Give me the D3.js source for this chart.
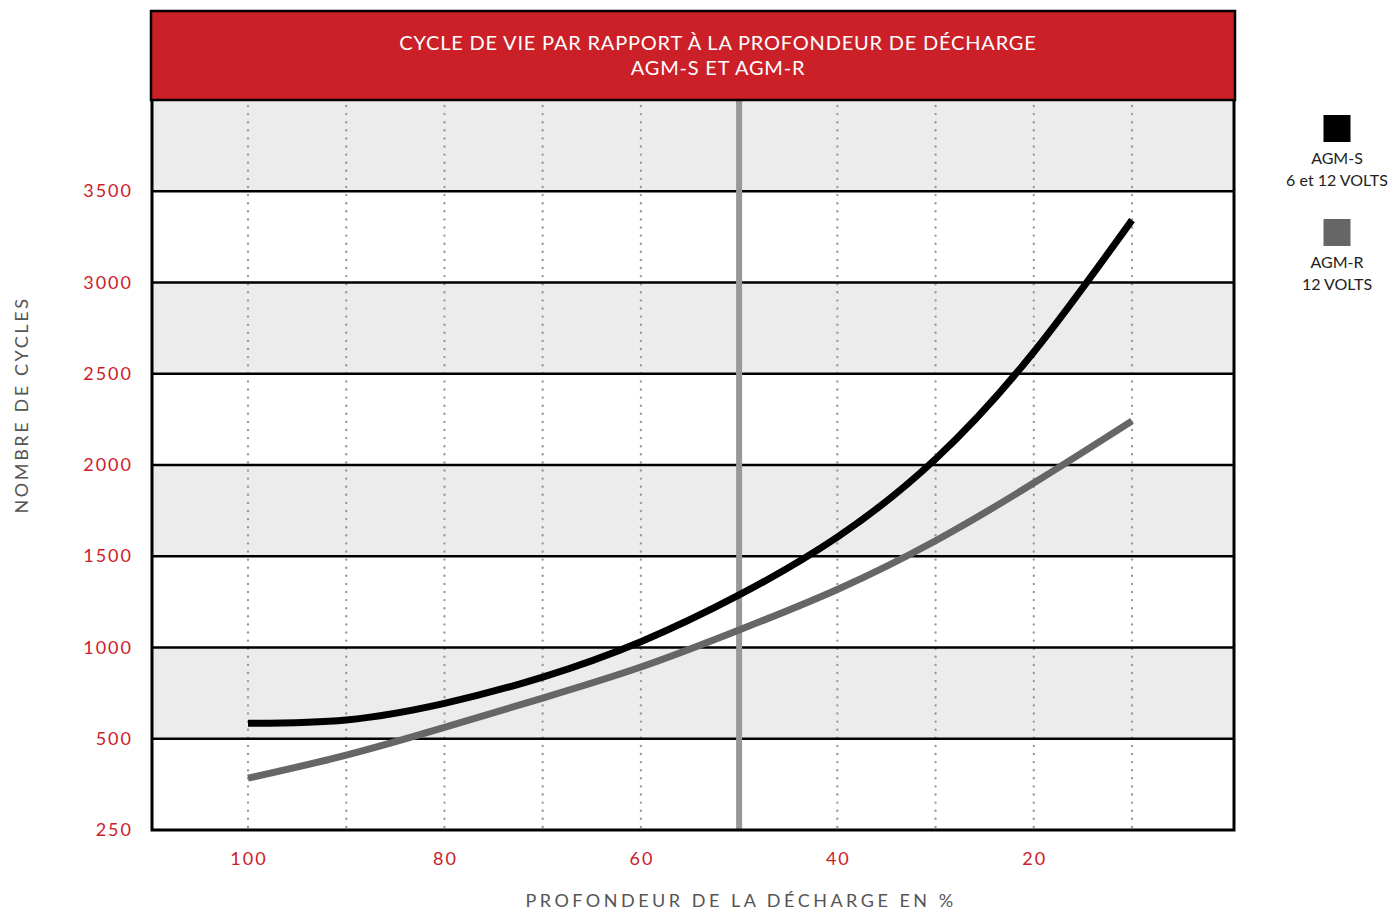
<!DOCTYPE html>
<html>
<head>
<meta charset="utf-8">
<script src="https://cdn.jsdelivr.net/npm/d3@7"></script>
<style>
  body { margin: 0; background: #fff; }
  svg text { font-family: Lato, "Open Sans", sans-serif; }
</style>
</head>
<body>
<svg id="chart" width="1397" height="912"></svg>
<script>
// depth of discharge (%) and cycles
var depth = [100, 90, 80, 70, 60, 50, 40, 30, 20, 10]
var agmS = [585, 603, 694, 838, 1032, 1288, 1605, 2033, 2619, 3342]
var agmR = [392, 455, 562, 723, 893, 1096, 1318, 1585, 1901, 2241]

var yTicks = [250, 500, 1000, 1500, 2000, 2500, 3000, 3500, 4000]
var yLabels = [250, 500, 1000, 1500, 2000, 2500, 3000, 3500]
var xLabels = [100, 80, 60, 40, 20]
var gridX = [100, 90, 80, 70, 60, 40, 30, 20, 10]
var markerX = 50

var titleLines = ["CYCLE DE VIE PAR RAPPORT À LA PROFONDEUR DE DÉCHARGE", "AGM-S ET AGM-R"]
var legendItems = [
  { name: "AGM-S", sub: "6 et 12 VOLTS", color: "#000" },
  { name: "AGM-R", sub: "12 VOLTS", color: "#666" }
]

var red = "#cc2029"
var plotL = 152, plotR = 1234, plotT = 100, plotB = 830

var svg = d3.select("#chart")

// y axis is evenly spaced per tick, not linear
var yScale = d3.scaleLinear()
  .domain(yTicks)
  .range(yTicks.map(function (d, i) { return plotB - i * (plotB - plotT) / (yTicks.length - 1) }))

var xScale = d3.scaleLinear().domain([100, 10]).range([248, 1132])

// bands
var bands = d3.pairs(yTicks)
svg.append("g").selectAll("rect")
  .data(bands).enter()
  .append("rect")
  .attr("x", plotL)
  .attr("width", plotR - plotL)
  .attr("y", function (d) { return yScale(d[1]) })
  .attr("height", function (d) { return yScale(d[0]) - yScale(d[1]) })
  .attr("fill", function (d, i) { return i % 2 == 0 ? "#fff" : "#ececec" })

// dotted verticals
svg.append("g").selectAll("line")
  .data(gridX).enter()
  .append("line")
  .attr("x1", function (d) { return xScale(d) })
  .attr("x2", function (d) { return xScale(d) })
  .attr("y1", plotT + 6)
  .attr("y2", plotB - 3)
  .attr("stroke", "#9a9a9a")
  .attr("stroke-width", 2.4)
  .attr("stroke-linecap", "round")
  .attr("stroke-dasharray", "0 8.1")

// horizontal grid lines
svg.append("g").selectAll("line")
  .data(yLabels.slice(1)).enter()
  .append("line")
  .attr("x1", plotL)
  .attr("x2", plotR)
  .attr("y1", function (d) { return yScale(d) })
  .attr("y2", function (d) { return yScale(d) })
  .attr("stroke", "#000")
  .attr("stroke-width", 2.5)

// 50% marker
svg.append("line")
  .attr("x1", xScale(markerX))
  .attr("x2", xScale(markerX))
  .attr("y1", plotT)
  .attr("y2", plotB)
  .attr("stroke", "#98989b")
  .attr("stroke-width", 6)

// frame
svg.append("path")
  .attr("d", "M" + plotL + "," + plotT + "V" + plotB + "H" + plotR + "V" + plotT)
  .attr("fill", "none")
  .attr("stroke", "#000")
  .attr("stroke-width", 3)

// curves
var line = d3.line()
  .x(function (d) { return xScale(d[0]) })
  .y(function (d) { return yScale(d[1]) })
  .curve(d3.curveNatural)

var series = [
  { values: agmR, color: "#666" },
  { values: agmS, color: "#000" }
]
svg.append("g").selectAll("path")
  .data(series).enter()
  .append("path")
  .attr("d", function (s) { return line(d3.zip(depth, s.values)) })
  .attr("fill", "none")
  .attr("stroke", function (s) { return s.color })
  .attr("stroke-width", 7)

// title box
svg.append("rect")
  .attr("x", plotL - 1)
  .attr("y", 11)
  .attr("width", plotR - plotL + 2)
  .attr("height", plotT - 11)
  .attr("fill", red)
  .attr("stroke", "#000")
  .attr("stroke-width", 2.5)

svg.append("g").selectAll("text")
  .data(titleLines).enter()
  .append("text")
  .attr("x", 718)
  .attr("y", function (d, i) { return 50 + i * 25 })
  .attr("text-anchor", "middle")
  .attr("fill", "#fff")
  .attr("font-size", 20)
  .attr("letter-spacing", 0.8)
  .text(function (d) { return d })

// y labels
svg.append("g").selectAll("text")
  .data(yLabels).enter()
  .append("text")
  .attr("x", 133)
  .attr("y", function (d) { return yScale(d) + 6 })
  .attr("text-anchor", "end")
  .attr("fill", red)
  .attr("font-size", 18)
  .attr("letter-spacing", 2)
  .text(function (d) { return d })

// x labels
svg.append("g").selectAll("text")
  .data(xLabels).enter()
  .append("text")
  .attr("x", function (d) { return xScale(d) + 1 })
  .attr("y", 865)
  .attr("text-anchor", "middle")
  .attr("fill", red)
  .attr("font-size", 18)
  .attr("letter-spacing", 2)
  .text(function (d) { return d })

// axis titles
svg.append("text")
  .attr("transform", "translate(28,405) rotate(-90)")
  .attr("text-anchor", "middle")
  .attr("fill", "#555")
  .attr("font-size", 18)
  .attr("letter-spacing", 2.6)
  .text("NOMBRE DE CYCLES")

svg.append("text")
  .attr("x", 741)
  .attr("y", 907)
  .attr("text-anchor", "middle")
  .attr("fill", "#555")
  .attr("font-size", 18)
  .attr("letter-spacing", 3.5)
  .text("PROFONDEUR DE LA DÉCHARGE EN %")

// legend
var legend = svg.append("g").selectAll("g")
  .data(legendItems).enter()
  .append("g")
  .attr("transform", function (d, i) { return "translate(1337," + (115 + i * 104) + ")" })

legend.append("rect")
  .attr("x", -13.5)
  .attr("width", 27)
  .attr("height", 27)
  .attr("fill", function (d) { return d.color })

legend.append("text")
  .attr("y", 49)
  .attr("text-anchor", "middle")
  .attr("font-size", 16)
  .attr("fill", "#222")
  .text(function (d) { return d.name })

legend.append("text")
  .attr("y", 71)
  .attr("text-anchor", "middle")
  .attr("font-size", 16)
  .attr("fill", "#222")
  .text(function (d) { return d.sub })
</script>
</body>
</html>
